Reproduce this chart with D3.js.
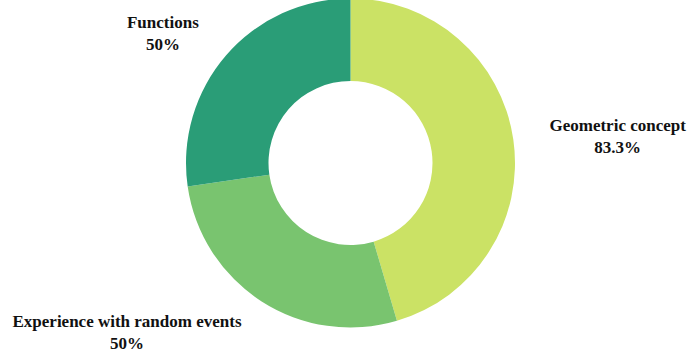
<!DOCTYPE html>
<html><head><meta charset="utf-8">
<script src="https://cdn.jsdelivr.net/npm/d3@7"></script>
<style>html,body{margin:0;padding:0;background:#fff;}</style>
</head><body>
<svg id="chart" width="689" height="354"></svg>
<script>
const categories = ["Geometric concept", "Experience with random events", "Functions"];
const values = [83.3, 50, 50];
const valueLabels = ["83.3%", "50%", "50%"];
const colors = ["#cbe265", "#79c46f", "#2a9d77"];
// label placement relative to each slice's centroid direction
const labelRadius = [268, 284, 225];
const labelAngleShift = [3.7, 19.2, -7.4]; // degrees

const W = 689, H = 354;
const cx = 350.5, cy = 163, rOuter = 164.5, rInner = 82;
const svg = d3.select("#chart");
const g = svg.append("g").attr("transform", `translate(${cx},${cy})`);

const pie = d3.pie().sort(null).value(d => d);
const arcs = pie(values);
const arc = d3.arc().innerRadius(rInner).outerRadius(rOuter);

g.selectAll("path").data(arcs).join("path")
  .attr("d", arc).attr("fill", (d,i) => colors[i]);

const lab = g.selectAll("g.lab").data(arcs).join("g").attr("class","lab")
  .attr("transform", (d,i) => {
    const a = (d.startAngle + d.endAngle)/2 + labelAngleShift[i]*Math.PI/180;
    const r = labelRadius[i];
    return `translate(${r*Math.sin(a)},${-r*Math.cos(a)})`;
  });
function styleText(sel){
  sel.attr("text-anchor","middle")
    .style("font-family", '"Liberation Serif"')
    .style("font-weight","bold").style("font-size","17px").style("fill","#111");
}
lab.append("text").attr("y",-11).call(styleText).text((d,i) => categories[i]);
lab.append("text").attr("y",11).call(styleText).text((d,i) => valueLabels[i]);
</script>
</body></html>
